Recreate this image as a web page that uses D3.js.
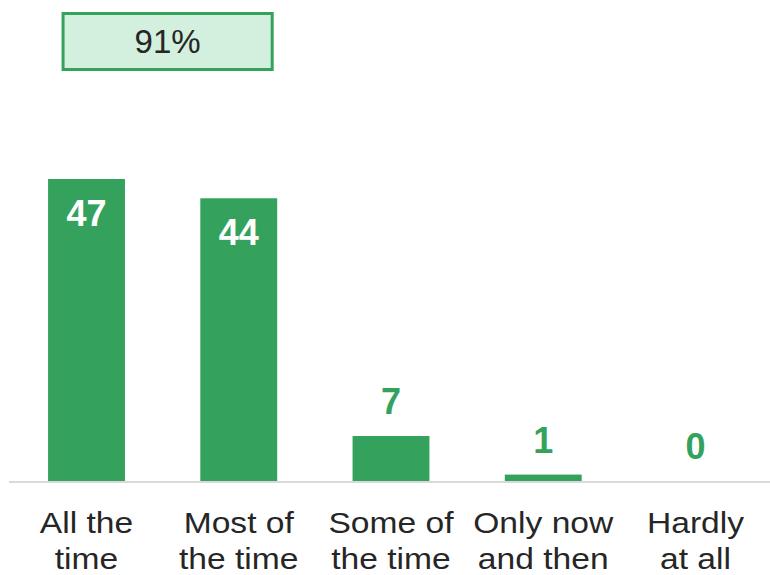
<!DOCTYPE html>
<html>
<head>
<meta charset="utf-8">
<script src="https://cdn.jsdelivr.net/npm/d3@7"></script>
<style>
  body { margin: 0; background: #fff; }
  text { font-family: "Liberation Sans", Arial, sans-serif; }
</style>
</head>
<body>
<svg id="chart"></svg>
<script>
(function() {

// categories (two lines each) and values
const categories = [
    ["All the", "time"],
    ["Most of", "the time"],
    ["Some of", "the time"],
    ["Only now", "and then"],
    ["Hardly", "at all"]
];
const values = [47, 44, 7, 1, 0];
const summaryLabel = "91%";

const barColor = "#34a25d";
const textColor = "#262626";

const width = 770;
const height = 575;
const baseY = 481;

const svg = d3.select("#chart")
    .attr("width", width)
    .attr("height", height);

const x = d3.scaleBand()
    .domain(d3.range(categories.length))
    .range([10, 772])
    .paddingInner(0.495)
    .paddingOuter(0.25);

const y = d3.scaleLinear()
    .domain([0, 47])
    .range([baseY, 179]);

// bars
svg.selectAll(".bar")
    .data(values)
    .join("rect")
    .attr("class", "bar")
    .attr("x", (d, i) => x(i))
    .attr("y", d => y(d))
    .attr("width", x.bandwidth())
    .attr("height", d => baseY - y(d))
    .attr("fill", barColor);

// baseline
svg.append("line")
    .attr("x1", 9)
    .attr("x2", width)
    .attr("y1", baseY + 1)
    .attr("y2", baseY + 1)
    .attr("stroke", "#d9d9d9")
    .attr("stroke-width", 2);

// value labels - inside for big bars, above for small
svg.selectAll(".val")
    .data(values)
    .join("text")
    .attr("class", "val")
    .attr("x", (d, i) => x(i) + x.bandwidth() / 2)
    .attr("y", d => d > 20 ? y(d) + 47 : y(d) - 22)
    .attr("text-anchor", "middle")
    .attr("font-size", "36px")
    .attr("font-weight", "bold")
    .attr("fill", d => d > 20 ? "#fff" : barColor)
    .text(d => d);

// category labels, a bit wider than plain Arial
const lab = svg.selectAll(".cat")
    .data(categories)
    .join("g")
    .attr("class", "cat")
    .attr("transform", (d, i) => `translate(${x(i) + x.bandwidth() / 2},0) scale(1.12,1)`);

lab.selectAll("text")
    .data(d => d)
    .join("text")
    .attr("x", 0)
    .attr("y", (d, j) => 533 + j * 36)
    .attr("text-anchor", "middle")
    .attr("font-size", "30px")
    .attr("fill", textColor)
    .text(d => d);

// summary box over the first two bars
const bx0 = x(0) + 15;
const bx1 = x(1) + x.bandwidth() - 5;
svg.append("rect")
    .attr("x", bx0)
    .attr("y", 13.5)
    .attr("width", bx1 - bx0)
    .attr("height", 56)
    .attr("fill", "#d3efdd")
    .attr("stroke", barColor)
    .attr("stroke-width", 3);

svg.append("text")
    .attr("x", (bx0 + bx1) / 2)
    .attr("y", 53)
    .attr("text-anchor", "middle")
    .attr("font-size", "33px")
    .attr("fill", textColor)
    .text(summaryLabel);

})();
</script>
</body>
</html>
